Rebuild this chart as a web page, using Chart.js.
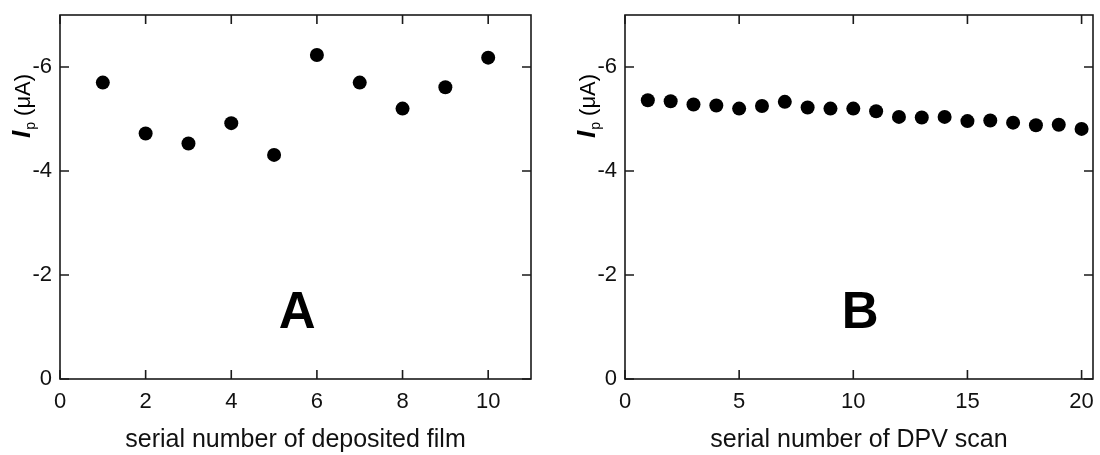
<!DOCTYPE html>
<html>
<head>
<meta charset="utf-8">
<script src="https://cdn.jsdelivr.net/npm/chart.js@4/dist/chart.umd.min.js"></script>
<style>
  html, body { margin: 0; padding: 0; background: #fff; }
  .panel { position: absolute; top: 0; width: 550px; height: 455px; }
</style>
</head>
<body>
<div class="panel" style="left:0"><canvas id="chartA" width="550" height="455"></canvas></div>
<div class="panel" style="left:550px"><canvas id="chartB" width="550" height="455"></canvas></div>
<script>
// panel A: peak current for each deposited film
const filmNumbers = [1, 2, 3, 4, 5, 6, 7, 8, 9, 10]
const filmPeak = [-5.70, -4.72, -4.53, -4.92, -4.31, -6.23, -5.70, -5.20, -5.61, -6.18]

// panel B: peak current over repeated DPV scans
const scanNumbers = [1, 2, 3, 4, 5, 6, 7, 8, 9, 10, 11, 12, 13, 14, 15, 16, 17, 18, 19, 20]
const scanPeak = [-5.36, -5.34, -5.28, -5.26, -5.20, -5.25, -5.33, -5.22, -5.20, -5.20,
                  -5.15, -5.04, -5.03, -5.04, -4.96, -4.97, -4.93, -4.88, -4.89, -4.81]

const yTickValues = [0, -2, -4, -6]
const xTicksA = [0, 2, 4, 6, 8, 10]
const xTicksB = [0, 5, 10, 15, 20]

const FONT = "'Liberation Sans', Arial, sans-serif"
const INK = "#111"

// frame + inward tick marks on all four sides, plus the panel letter and the y title
const framePlugin = {
    id: "frame",
    beforeDatasetsDraw(chart) {
        const { ctx, chartArea: a, scales } = chart
        const len = 9
        ctx.save()
        ctx.strokeStyle = "#1a1a1a"
        ctx.lineWidth = 1.6
        ctx.strokeRect(a.left, a.top, a.right - a.left, a.bottom - a.top)
        ctx.beginPath()
        scales.x.ticks.forEach(t => {
            const px = scales.x.getPixelForValue(t.value)
            ctx.moveTo(px, a.bottom); ctx.lineTo(px, a.bottom - len)
            ctx.moveTo(px, a.top); ctx.lineTo(px, a.top + len)
        })
        scales.y.ticks.forEach(t => {
            const py = scales.y.getPixelForValue(t.value)
            ctx.moveTo(a.left, py); ctx.lineTo(a.left + len, py)
            ctx.moveTo(a.right, py); ctx.lineTo(a.right - len, py)
        })
        ctx.stroke()

        // panel letter
        const opts = chart.options.plugins.frame
        ctx.fillStyle = "#000"
        ctx.font = "bold 51px " + FONT
        ctx.textAlign = "center"
        ctx.textBaseline = "middle"
        ctx.fillText(opts.letter, scales.x.getPixelForValue(opts.letterAt[0]), scales.y.getPixelForValue(opts.letterAt[1]))

        // rotated y title: I_p (μA)
        ctx.translate(a.left - 30, a.top + 123)
        ctx.rotate(-Math.PI / 2)
        ctx.textAlign = "left"
        ctx.textBaseline = "alphabetic"
        let x = 0
        ctx.font = "italic bold 26px " + FONT
        ctx.fillText("I", x, 0)
        x += ctx.measureText("I").width + 1
        ctx.font = "14px " + FONT
        ctx.fillText("p", x, 5)
        x += ctx.measureText("p").width
        ctx.font = "22px " + FONT
        ctx.fillText(" (\u03bcA)", x, 0)
        ctx.restore()
    }
}

function makePanel(id, xs, ys, xMax, xTicks, xTitle, letter, letterAt, yWidth, padRight) {
    const points = xs.map((x, i) => ({ x: x, y: ys[i] }))
    return new Chart(document.getElementById(id), {
        type: "scatter",
        data: {
            datasets: [{
                data: points,
                backgroundColor: "#000",
                borderWidth: 0,
                pointRadius: 7,
                pointHoverRadius: 7
            }]
        },
        options: {
            responsive: false,
            animation: false,
            events: [],
            layout: { padding: { top: 15, right: padRight, left: 0, bottom: 0 } },
            plugins: {
                legend: { display: false },
                tooltip: { enabled: false },
                frame: { letter: letter, letterAt: letterAt }
            },
            scales: {
                x: {
                    type: "linear",
                    min: 0,
                    max: xMax,
                    grid: { display: false, drawTicks: false },
                    border: { display: false },
                    afterBuildTicks: axis => { axis.ticks = xTicks.map(v => ({ value: v })) },
                    afterFit: axis => {
                        axis.height = 76
                        // keep label overflow from shrinking the plot area
                        axis.paddingLeft = 0
                        axis.paddingRight = 0
                    },
                    ticks: { padding: 10, color: INK, font: { family: FONT, size: 22 }, maxRotation: 0 },
                    title: {
                        display: true,
                        text: xTitle,
                        color: INK,
                        font: { family: FONT, size: 25 },
                        padding: { top: 0, bottom: 0 }
                    }
                },
                y: {
                    type: "linear",
                    min: -7,
                    max: 0,
                    reverse: true,
                    grid: { display: false, drawTicks: false },
                    border: { display: false },
                    afterBuildTicks: axis => { axis.ticks = yTickValues.map(v => ({ value: v })) },
                    afterFit: axis => {
                        axis.width = yWidth
                        axis.paddingTop = 0
                        axis.paddingBottom = 0
                    },
                    ticks: { padding: 8, color: INK, font: { family: FONT, size: 22 } }
                }
            }
        },
        plugins: [framePlugin]
    })
}

makePanel("chartA", filmNumbers, filmPeak, 11, xTicksA, "serial number of deposited film", "A", [5.54, -1.25], 60, 19)
makePanel("chartB", scanNumbers, scanPeak, 20.5, xTicksB, "serial number of DPV scan", "B", [10.3, -1.25], 75, 4)
</script>
</body>
</html>
